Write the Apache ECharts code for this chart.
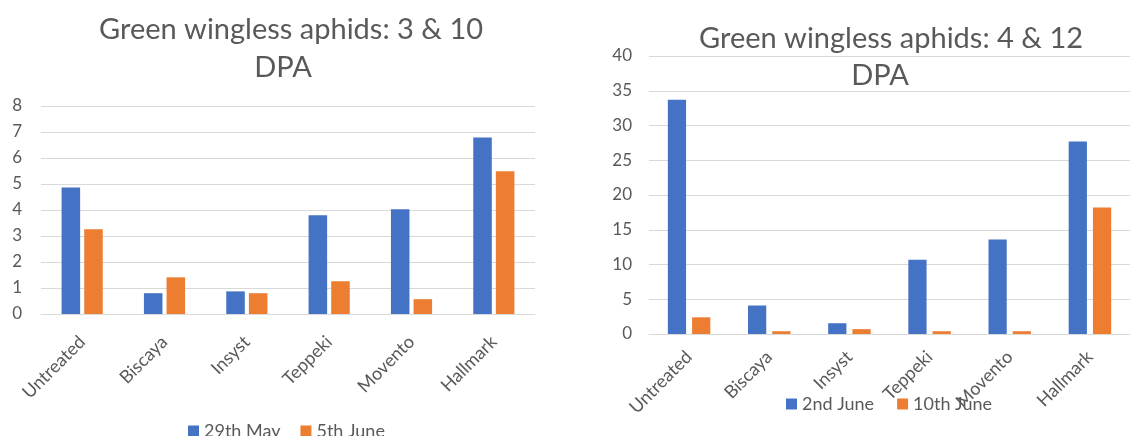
<!DOCTYPE html>
<html>
<head>
<meta charset="utf-8">
<script src="https://cdn.jsdelivr.net/npm/echarts@6/dist/echarts.min.js"></script>
<style>
html,body{margin:0;padding:0;background:#fff;}
#chart{width:1130px;height:436px;}
</style>
</head>
<body>
<div id="chart"></div>
<script>
const categories = ['Untreated', 'Biscaya', 'Insyst', 'Teppeki', 'Movento', 'Hallmark'];
const leftSeriesNames = ['29th May', '5th June'];
const may29 = [4.87, 0.80, 0.87, 3.80, 4.03, 6.79];
const june5 = [3.26, 1.41, 0.80, 1.26, 0.57, 5.49];
const rightSeriesNames = ['2nd June', '10th June'];
const june2 = [33.7, 4.1, 1.55, 10.7, 13.6, 27.7];
const june10 = [2.4, 0.4, 0.7, 0.4, 0.4, 18.2];
const leftAxis = { min: 0, max: 8, interval: 1 };
const rightAxis = { min: 0, max: 40, interval: 5 };

const FONT = 'Lato';
const TXT = '#595959';
const GRIDC = '#d9d9d9';
const BLUE = '#4472C4';
const ORANGE = '#ED7D31';

const chart = echarts.init(document.getElementById('chart'), null, { renderer: 'canvas' });

function xAxis(gridIndex, margin) {
  return {
    type: 'category', gridIndex, data: categories,
    axisLine: { show: true, lineStyle: { color: GRIDC, width: 1 } },
    axisTick: { show: false },
    axisLabel: { interval: 0, rotate: 45, color: TXT, fontFamily: FONT, fontSize: 18, margin },
    splitLine: { show: false }
  };
}
function yAxis(gridIndex, cfg, margin) {
  return {
    type: 'value', gridIndex, min: cfg.min, max: cfg.max, interval: cfg.interval,
    axisLine: { show: false }, axisTick: { show: false },
    axisLabel: { color: TXT, fontFamily: FONT, fontSize: 17, margin },
    splitLine: { lineStyle: { color: GRIDC, width: 1 } }
  };
}
function titleText(text, x, y) {
  return { text, left: x, top: y, textAlign: 'center',
    textStyle: { fontFamily: FONT, fontSize: 29, fontWeight: 'normal', color: TXT } };
}

chart.setOption({
  animation: false,
  title: [
    titleText('Green wingless aphids: 3 & 10', 286, 10),
    titleText('DPA', 278, 48),
    titleText('Green wingless aphids: 4 & 12', 886, 19),
    titleText('DPA', 875, 56)
  ],
  legend: [
    { data: leftSeriesNames, left: 183, top: 417, itemWidth: 11, itemHeight: 11, itemGap: 20,
      icon: 'rect', textStyle: { fontFamily: FONT, fontSize: 18, color: TXT } },
    { data: rightSeriesNames, left: 781, top: 390, itemWidth: 11, itemHeight: 11, itemGap: 23,
      icon: 'rect', textStyle: { fontFamily: FONT, fontSize: 18, color: TXT } }
  ],
  grid: [
    { left: 41, top: 106, width: 494, height: 208, containLabel: false },
    { left: 649, top: 56, width: 481, height: 278, containLabel: false }
  ],
  xAxis: [xAxis(0, 25), xAxis(1, 20)],
  yAxis: [yAxis(0, leftAxis, 19), yAxis(1, rightAxis, 17)],
  series: [
    { name: leftSeriesNames[0], type: 'bar', xAxisIndex: 0, yAxisIndex: 0, data: may29,
      itemStyle: { color: BLUE }, barGap: '22%', barCategoryGap: '50%' },
    { name: leftSeriesNames[1], type: 'bar', xAxisIndex: 0, yAxisIndex: 0, data: june5,
      itemStyle: { color: ORANGE }, barGap: '22%', barCategoryGap: '50%' },
    { name: rightSeriesNames[0], type: 'bar', xAxisIndex: 1, yAxisIndex: 1, data: june2,
      itemStyle: { color: BLUE }, barGap: '33%', barCategoryGap: '47%' },
    { name: rightSeriesNames[1], type: 'bar', xAxisIndex: 1, yAxisIndex: 1, data: june10,
      itemStyle: { color: ORANGE }, barGap: '33%', barCategoryGap: '47%' }
  ]
});
</script>
</body>
</html>
